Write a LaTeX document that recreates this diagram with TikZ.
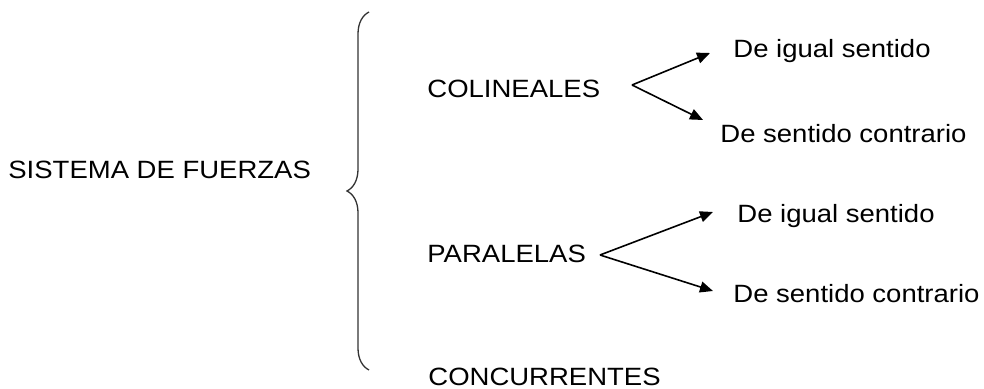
\documentclass[tikz,border=0pt]{standalone}
\usepackage{fontspec}
\setmainfont[FakeStretch=1.1]{Liberation Sans}
\usetikzlibrary{arrows.meta,decorations.pathreplacing}

\tikzset{
    label/.style={anchor=base west, inner sep=0pt, font=\fontsize{12.5pt}{15pt}\selectfont},
    branch/.style={-{Triangle[length=6.5pt,width=5.5pt]}, line width=0.8pt}
}

\begin{document}
\begin{tikzpicture}[x=0.5pt, y=-0.5pt]
    \useasboundingbox (0,0) rectangle (984,389);

    % Main title and the brace
    \node[label] (sistema) at (8,179) {SISTEMA DE FUERZAS};
    \coordinate (bracebot) at (369,370);
    \coordinate (bracetop) at (369,12);
    \draw[line width=0.65pt, black!80, decorate, decoration={brace, amplitude=11pt}] (bracebot) -- (bracetop);

    % Kinds of systems
    \node[label] (colineales) at (427,98) {COLINEALES};
    \node[label] (paralelas) at (427,263) {PARALELAS};
    \node[label] (concurrentes) at (428,386) {CONCURRENTES};

    % Senses
    \node[label] (coligual) at (733,58) {De igual sentido};
    \node[label] (colcontra) at (720,143) {De sentido contrario};
    \node[label] (paraigual) at (737,223) {De igual sentido};
    \node[label] (paracontra) at (733,303) {De sentido contrario};

    % Forks
    \coordinate (colfork) at (632,85);
    \coordinate (colup) at (710,53);
    \coordinate (coldown) at (703,120);
    \draw[branch] (colfork) -- (colup);
    \draw[branch] (colfork) -- (coldown);

    \coordinate (parafork) at (600,255);
    \coordinate (paraup) at (713,212);
    \coordinate (paradown) at (713,291);
    \draw[branch] (parafork) -- (paraup);
    \draw[branch] (parafork) -- (paradown);

\end{tikzpicture}
\end{document}
